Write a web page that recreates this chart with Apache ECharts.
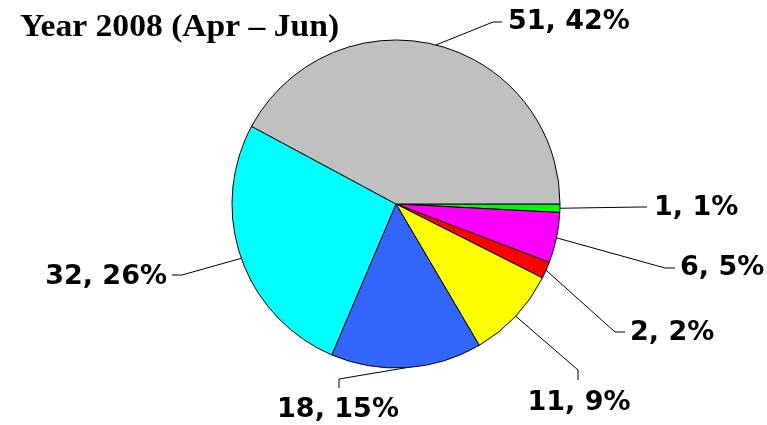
<!DOCTYPE html>
<html>
<head>
<meta charset="utf-8">
<script src="https://cdn.jsdelivr.net/npm/echarts@6/dist/echarts.min.js"></script>
<style>html,body{margin:0;padding:0;background:#fff}#c{width:767px;height:425px}</style>
</head>
<body>
<div id="c"></div>
<script>
// ---- data ----
const titleText = 'Year 2008 (Apr \u2013 Jun)';
const categories = ['Green', 'Magenta', 'Red', 'Yellow', 'Blue', 'Cyan', 'Grey'];
const values = [1, 6, 2, 11, 18, 32, 51];
const colors = ['#00FF00', '#FF00FF', '#FF0000', '#FFFF00', '#3366FF', '#00FFFF', '#C0C0C0'];

// ---- label layout (text anchor and leader bend points, px) ----
const labelPlace = [
  {x: 654, y: 208, align: 'left',   pts: [[640, 207], [647, 207]]},
  {x: 680, y: 268, align: 'left',   pts: [[665, 268], [675, 268]]},
  {x: 630, y: 333, align: 'left',   pts: [[615, 332], [625, 332]]},
  {x: 579, y: 403, align: 'center', pts: [[578, 370], [578, 380]]},
  {x: 338, y: 410, align: 'center', pts: [[339, 379], [339, 388]]},
  {x: 167, y: 277, align: 'right',  pts: [[182, 275], [172, 275]]},
  {x: 508, y: 22,  align: 'left',   pts: [[493, 22], [502, 22]]}
];
const CX = 396, CY = 204, R = 164;
const total = values.reduce((a, b) => a + b, 0);
function edgePoint(i) {
  let before = 0;
  for (let k = 0; k < i; k++) before += values[k];
  const mid = (before + values[i] / 2) / total * Math.PI * 2; // clockwise from 3 o'clock
  return [CX + R * Math.cos(mid), CY + R * Math.sin(mid)];
}

const chart = echarts.init(document.getElementById('c'), null, {renderer: 'canvas'});
chart.setOption({
  animation: false,
  backgroundColor: '#fff',
  graphic: [{
    type: 'text',
    x: 20, y: 12,
    scaleX: 1.05,
    style: {
      text: titleText,
      font: 'bold 32px "Liberation Serif", "Times New Roman", serif',
      fill: '#000',
      verticalAlign: 'top',
      align: 'left'
    }
  }],
  series: [{
    type: 'pie',
    center: [CX, CY],
    radius: R,
    startAngle: 0,
    clockwise: true,
    avoidLabelOverlap: false,
    emphasis: {disabled: true},
    itemStyle: {borderColor: '#000', borderWidth: 1},
    label: {
      show: true,
      position: 'outside',
      color: '#000',
      fontFamily: '"DejaVu Sans", Verdana, sans-serif',
      fontWeight: 'bold',
      fontSize: 27,
      formatter: p => p.value + ', ' + Math.round(p.percent) + '%'
    },
    labelLine: {show: true, lineStyle: {color: '#000', width: 1}, length: 10, length2: 10},
    labelLayout: function (params) {
      const i = params.dataIndex;
      const lp = labelPlace[i];
      const p0 = edgePoint(i);
      return {
        x: lp.x, y: lp.y,
        align: lp.align,
        verticalAlign: 'middle',
        labelLinePoints: [p0, lp.pts[0], lp.pts[1]]
      };
    },
    data: categories.map((c, i) => ({name: c, value: values[i], itemStyle: {color: colors[i]}}))
  }]
});
</script>
</body>
</html>
